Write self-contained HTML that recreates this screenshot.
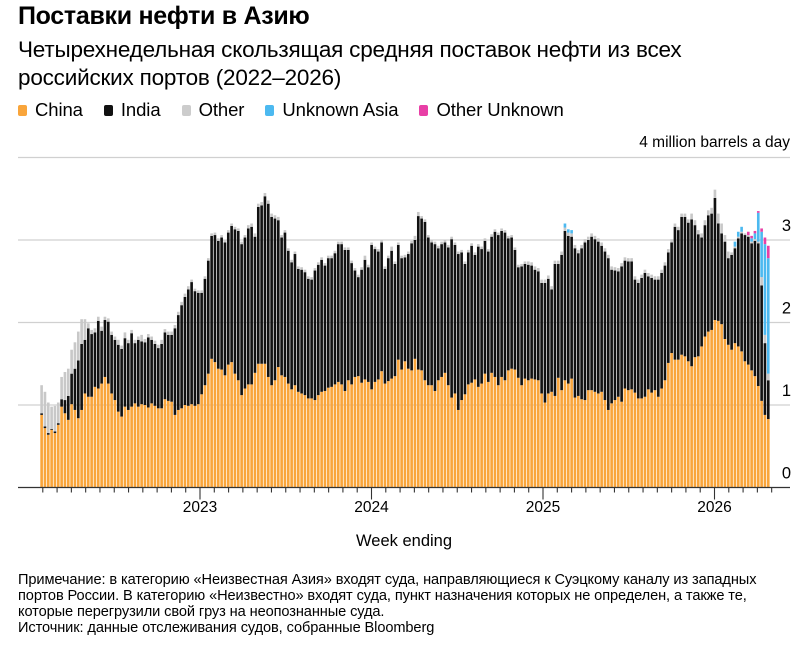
<!DOCTYPE html>
<html><head><meta charset="utf-8">
<style>
body{margin:0;background:#fff;font-family:"Liberation Sans","DejaVu Sans",sans-serif;color:#000;}
#wrap{position:relative;width:803px;height:648px;overflow:hidden;}
.t{position:absolute;white-space:nowrap;}
.sw{display:inline-block;width:9px;height:11px;border-radius:2px;margin-right:8px;}
</style></head><body>
<div id="wrap">
<div class="t" style="left:18px;top:2px;font-size:25px;font-weight:bold;letter-spacing:-0.3px;">Поставки нефти в Азию</div>
<div class="t" style="left:18px;top:36px;font-size:22.5px;line-height:28px;letter-spacing:-0.2px;">Четырехнедельная скользящая средняя поставок нефти из всех<br>российских портов (2022–2026)</div>
<div class="t" style="left:18px;top:99px;font-size:18.5px;letter-spacing:-0.1px;">
<span><span class="sw" style="background:#f9a53b;"></span>China</span>
<span style="margin-left:16px;"><span class="sw" style="background:#111;"></span>India</span>
<span style="margin-left:16px;"><span class="sw" style="background:#ccc;"></span>Other</span>
<span style="margin-left:16px;"><span class="sw" style="background:#4cb9f0;"></span>Unknown Asia</span>
<span style="margin-left:16px;"><span class="sw" style="background:#e83fa6;"></span>Other Unknown</span>
</div>
<div class="t" style="right:13px;top:134px;font-size:15.5px;">4 million barrels a day</div>
<svg id="chart" width="803" height="560" style="position:absolute;left:0;top:0;"></svg>
<div class="t" style="left:356px;top:532px;font-size:16.5px;">Week ending</div>
<div class="t" style="left:18px;top:572px;font-size:14.6px;line-height:16px;letter-spacing:-0.1px;">Примечание: в категорию «Неизвестная Азия» входят суда, направляющиеся к Суэцкому каналу из западных<br>портов России. В категорию «Неизвестно» входят суда, пункт назначения которых не определен, а также те,<br>которые перегрузили свой груз на неопознанные суда.<br>Источник: данные отслеживания судов, собранные Bloomberg</div>
</div>
<script>
const china=[0.88,0.72,0.64,0.70,0.66,0.76,0.98,0.90,0.82,1.01,0.94,0.84,0.94,1.14,1.10,1.10,1.22,1.20,1.26,1.34,1.26,1.14,1.06,0.92,0.86,0.98,0.94,0.98,1.02,0.98,1.01,1.00,0.97,1.02,0.99,0.96,0.96,1.07,1.05,1.04,0.88,0.94,0.96,1.00,0.99,1.01,0.99,1.01,1.13,1.24,1.38,1.56,1.52,1.44,1.43,1.36,1.49,1.52,1.38,1.30,1.12,1.20,1.25,1.25,1.39,1.50,1.50,1.50,1.34,1.24,1.30,1.46,
1.36,1.34,1.26,1.19,1.24,1.16,1.14,1.12,1.08,1.08,1.06,1.12,1.16,1.17,1.21,1.22,1.25,1.28,1.25,1.17,1.30,1.25,1.34,1.35,1.27,1.31,1.28,1.19,1.28,1.31,1.41,1.26,1.29,1.32,1.35,1.55,1.43,1.53,1.44,1.42,1.56,1.43,1.42,1.30,1.24,1.24,1.17,1.30,1.34,1.39,1.24,1.09,1.14,0.94,1.06,1.13,1.25,1.27,1.31,1.22,1.26,1.38,1.28,1.39,1.34,1.24,1.34,1.30,1.42,1.44,1.43,1.33,1.24,1.32,
1.30,1.32,1.31,1.30,1.14,1.03,1.14,1.16,1.11,1.33,1.18,1.30,1.26,1.32,1.09,1.11,1.07,1.06,1.18,1.18,1.16,1.14,1.16,1.06,0.94,1.02,1.06,1.10,1.04,1.20,1.18,1.19,1.15,1.08,1.08,1.10,1.19,1.15,1.18,1.10,1.20,1.30,1.51,1.63,1.55,1.55,1.61,1.59,1.53,1.47,1.58,1.59,1.71,1.83,1.89,1.91,2.03,2.02,1.98,1.80,1.73,1.67,1.75,1.71,1.65,1.53,1.49,1.42,1.35,1.23,1.05,0.88,0.83];
const india=[0.02,0.02,0.02,0.01,0.02,0.02,0.09,0.16,0.29,0.37,0.50,0.70,0.80,0.65,0.83,0.76,0.66,0.82,0.64,0.69,0.75,0.71,0.73,0.81,0.82,0.83,0.81,0.89,0.73,0.81,0.76,0.76,0.85,0.77,0.75,0.73,0.78,0.81,0.80,0.81,1.05,1.15,1.25,1.31,1.41,1.48,1.39,1.35,1.23,1.29,1.37,1.49,1.54,1.55,1.60,1.61,1.60,1.65,1.75,1.81,1.83,1.83,1.89,1.91,1.65,1.90,1.92,2.03,2.10,2.04,1.96,1.78,
1.67,1.75,1.61,1.54,1.59,1.49,1.50,1.49,1.45,1.44,1.57,1.58,1.60,1.52,1.57,1.56,1.59,1.67,1.70,1.71,1.58,1.47,1.29,1.20,1.37,1.45,1.39,1.75,1.61,1.55,1.56,1.39,1.49,1.55,1.36,1.39,1.35,1.26,1.39,1.54,1.44,1.86,1.84,1.92,1.79,1.73,1.78,1.60,1.61,1.58,1.67,1.92,1.80,1.89,1.79,1.58,1.60,1.66,1.51,1.70,1.63,1.61,1.58,1.65,1.76,1.82,1.77,1.79,1.60,1.59,1.45,1.34,1.44,1.39,
1.40,1.37,1.33,1.32,1.34,1.45,1.39,1.24,1.60,1.38,1.64,1.81,1.79,1.72,1.81,1.73,1.83,1.91,1.82,1.86,1.85,1.84,1.77,1.80,1.84,1.62,1.57,1.52,1.64,1.55,1.56,1.55,1.37,1.40,1.46,1.50,1.37,1.39,1.34,1.42,1.40,1.39,1.34,1.34,1.61,1.57,1.67,1.69,1.68,1.78,1.60,1.48,1.32,1.35,1.41,1.41,1.48,1.18,1.10,1.18,1.05,1.15,1.15,1.31,1.43,1.53,1.55,1.54,1.64,1.73,1.40,0.87,0.47];
const other=[0.34,0.42,0.37,0.27,0.31,0.25,0.27,0.34,0.33,0.29,0.32,0.35,0.30,0.25,0.06,0.05,0.05,0.05,0.05,0.04,0.04,0.04,0.04,0.06,0.04,0.07,0.04,0.04,0.04,0.04,0.08,0.04,0.04,0.04,0.04,0.04,0.05,0.04,0.04,0.04,0.04,0.04,0.04,0.04,0.04,0.03,0.03,0.03,0.03,0.03,0.03,0.03,0.03,0.03,0.03,0.03,0.03,0.03,0.03,0.03,0.03,0.03,0.04,0.04,0.04,0.04,0.04,0.04,0.04,0.04,0.04,0.04,
0.03,0.03,0.03,0.03,0.03,0.03,0.03,0.03,0.03,0.03,0.03,0.03,0.03,0.03,0.03,0.03,0.03,0.03,0.03,0.03,0.03,0.03,0.03,0.03,0.03,0.05,0.03,0.03,0.03,0.03,0.03,0.03,0.03,0.05,0.03,0.03,0.03,0.03,0.03,0.03,0.05,0.05,0.03,0.03,0.03,0.03,0.03,0.03,0.03,0.03,0.03,0.03,0.03,0.03,0.03,0.03,0.03,0.03,0.03,0.03,0.03,0.03,0.03,0.03,0.03,0.03,0.03,0.03,0.03,0.03,0.03,0.03,0.03,0.03,
0.04,0.04,0.04,0.04,0.04,0.04,0.04,0.04,0.04,0.04,0.04,0.04,0.04,0.04,0.04,0.04,0.04,0.04,0.04,0.04,0.04,0.04,0.04,0.04,0.04,0.04,0.04,0.04,0.04,0.04,0.04,0.04,0.04,0.04,0.04,0.04,0.04,0.04,0.04,0.04,0.04,0.04,0.04,0.04,0.04,0.04,0.04,0.04,0.04,0.07,0.06,0.05,0.05,0.06,0.06,0.07,0.10,0.12,0.12,0.08,0.08,0.03,0.02,0.02,0.02,0.02,0.02,0.02,0.02,0.02,0.10,0.10,0.08];
const unknownAsia=new Array(219).fill(0);
const otherUnknown=new Array(219).fill(0);
const uaIdx=[157,158,159,208,209,210,213,214,215,216,217,218];
const uaVal=[0.05,0.04,0.04,0.06,0.06,0.06,0.04,0.07,0.35,0.55,1.10,1.40];
const ouIdx=[212,213,214,215,216,217,218];
const ouVal=[0.04,0.03,0.03,0.02,0.04,0.08,0.15];
uaIdx.forEach((k,j)=>unknownAsia[k]=uaVal[j]);
ouIdx.forEach((k,j)=>otherUnknown[k]=ouVal[j]);
const yTicks=[0,1,2,3];
const yearLabels=["2023","2024","2025","2026"];

const svg=document.getElementById('chart');
const NS='http://www.w3.org/2000/svg';
const N=china.length;
const x0=40,x1=770,y0=487.5,pxPerUnit=82.5;
const bw=(x1-x0)/N;
const xScale=i=>x0+i*bw;
const yScale=v=>y0-v*pxPerUnit;
function mk(tag,attrs){const e=document.createElementNS(NS,tag);for(const k in attrs)e.setAttribute(k,attrs[k]);svg.appendChild(e);return e;}

[...yTicks.slice(1),4].forEach(v=>{
  const l=mk('line',{x1:18,x2:790,y1:yScale(v),y2:yScale(v),stroke:'#d0d0d0','stroke-width':1.3});
  
  
});
yTicks.forEach(v=>{
  const t=mk('text',{x:791,y:yScale(v)-9,'text-anchor':'end','font-size':16.5,'font-family':'Liberation Sans, sans-serif',fill:'#000'});
  t.textContent=v;
  
  
});
const series=[[china,'#f9a53b','china'],[india,'#111111','india'],[other,'#c8c8c8','other'],[unknownAsia,'#4cb9f0','unknown-asia'],[otherUnknown,'#e83fa6','other-unknown']];
for(let i=0;i<N;i++){
  let base=0;
  series.forEach(([arr,col,nm])=>{
    const v=arr[i];
    if(v>0){
      const r=mk('rect',{x:xScale(i)+0.3,y:yScale(base+v),width:bw-0.7,height:v*pxPerUnit,fill:col});
      
      
    }
    base+=v;
  });
}
const bl=mk('line',{x1:18,x2:790,y1:y0,y2:y0,stroke:'#333','stroke-width':1.3});


const yearPx=171.5, y2023=200;
for(let m=-11;m<=40;m++){
  const x=y2023+m*yearPx/12;
  if(x<38||x>772)continue;
  const isYear=(m%12===0);
  const tk=mk('line',{x1:x,x2:x,y1:y0,y2:y0+(isYear?12:5),stroke:'#333','stroke-width':1.1});
  
  
}
yearLabels.forEach((lab,j)=>{
  const t=mk('text',{x:y2023+j*yearPx,y:512,'text-anchor':'middle','font-size':15.5,'font-family':'Liberation Sans, sans-serif',fill:'#000'});
  t.textContent=lab;
  
  
});
</script>
</body></html>
